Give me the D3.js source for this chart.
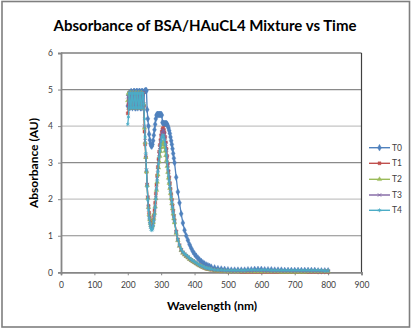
<!DOCTYPE html>
<html><head><meta charset="utf-8">
<script src="https://cdn.jsdelivr.net/npm/d3@7"></script>
<style>html,body{margin:0;padding:0;background:#fff;}svg{display:block;font-family:Lato,"Open Sans",sans-serif;}</style>
</head><body>
<svg id="c" width="412" height="329"></svg>
<script>
const wavelengths = [200,202,204,206,208,210,212,214,216,218,220,222,224,226,228,230,232,234,236,238,240,242,244,246,248,250,252,254,256,
258,260,262,264,266,268,270,272,274,276,278,280,282,284,286,288,290,292,294,296,298,300,302,304,306,308,310,312,314,316,318,320,322,324,326,328,330,332,334,336,338,340,
345,350,355,360,365,370,375,380,385,390,395,400,405,410,415,420,425,430,435,440,445,450,
460,470,480,490,500,510,520,530,540,550,560,570,580,590,600,610,620,630,640,650,660,670,680,690,700,710,720,730,740,750,760,770,780,790,800];

const T0 = [4.55,4.85,4.9,4.5,4.55,4.95,4.9,4.5,4.55,4.95,4.95,4.5,4.5,4.95,4.95,4.5,4.55,4.95,4.95,4.5,4.5,4.95,4.95,4.5,4.55,4.95,4.97,4.97,4.97,
4.45,4.2,4.0,3.78,3.62,3.52,3.46,3.45,3.5,3.6,3.75,3.9,4.05,4.2,4.3,4.32,4.32,4.32,4.32,4.32,4.32,4.32,4.3,4.1,4.07,4.07,4.07,4.07,4.07,4.07,4.05,4.0,3.95,3.88,3.8,3.7,3.6,3.5,3.38,3.25,3.12,3.0,
2.6,2.2,1.9,1.6,1.35,1.15,1.0,0.88,0.76,0.66,0.57,0.5,0.44,0.39,0.34,0.3,0.26,0.23,0.2,0.18,0.16,0.14,
0.12,0.1,0.09,0.08,0.07,0.06,0.06,0.06,0.06,0.06,0.07,0.07,0.08,0.08,0.08,0.07,0.07,0.07,0.06,0.06,0.06,0.05,0.05,0.05,0.05,0.05,0.05,0.05,0.05,0.05,0.05,0.04,0.04,0.04,0.04];

const T1 = [4.35,4.6,4.9,4.9,4.5,4.5,4.9,4.9,4.5,4.5,4.9,4.9,4.5,4.5,4.9,4.9,4.5,4.5,4.9,4.9,4.5,4.5,4.9,4.9,4.55,3.85,3.5,3.15,2.75,
2.4,2.05,1.82,1.63,1.49,1.39,1.33,1.3,1.33,1.42,1.55,1.7,1.9,2.15,2.4,2.65,2.88,3.1,3.3,3.48,3.62,3.75,3.85,3.92,3.95,3.9,3.82,3.7,3.55,3.38,3.18,2.97,2.77,2.6,2.44,2.29,2.14,1.99,1.84,1.69,1.55,1.43,
1.12,0.9,0.74,0.62,0.54,0.49,0.45,0.41,0.37,0.33,0.3,0.27,0.24,0.21,0.19,0.16,0.14,0.12,0.1,0.09,0.08,0.07,
0.05,0.04,0.03,0.03,0.02,0.02,0.02,0.02,0.01,0.01,0.01,0.01,0.01,0.01,0.01,0.01,0.01,0.01,0.01,0.01,0.01,0.01,0.01,0.01,0.01,0.01,0.01,0.01,0.01,0.01,0.01,0.01,0.01,0.01,0.01];

const T2 = [4.7,4.9,4.5,4.5,4.9,4.9,4.5,4.5,4.9,4.9,4.5,4.5,4.9,4.9,4.5,4.5,4.9,4.9,4.5,4.5,4.9,4.9,4.5,4.5,4.6,3.95,3.55,3.15,2.75,
2.38,2.03,1.78,1.58,1.44,1.34,1.28,1.25,1.28,1.36,1.48,1.62,1.8,2.02,2.25,2.47,2.67,2.86,3.03,3.18,3.31,3.42,3.5,3.55,3.55,3.5,3.42,3.32,3.2,3.06,2.9,2.74,2.58,2.44,2.3,2.16,2.02,1.88,1.74,1.6,1.47,1.36,
1.07,0.87,0.72,0.6,0.53,0.48,0.44,0.4,0.36,0.33,0.3,0.27,0.24,0.21,0.18,0.16,0.14,0.12,0.1,0.09,0.08,0.07,
0.05,0.04,0.03,0.03,0.02,0.02,0.02,0.02,0.02,0.02,0.02,0.02,0.02,0.02,0.02,0.02,0.02,0.02,0.02,0.02,0.01,0.01,0.01,0.01,0.01,0.01,0.01,0.01,0.02,0.02,0.02,0.02,0.02,0.02,0.02];

const T3 = [4.8,4.5,4.5,4.9,4.9,4.5,4.5,4.9,4.9,4.5,4.5,4.9,4.9,4.5,4.5,4.9,4.9,4.5,4.5,4.9,4.9,4.5,4.5,4.9,4.6,4.0,3.6,3.2,2.8,
2.4,2.05,1.78,1.56,1.4,1.29,1.23,1.2,1.23,1.32,1.45,1.6,1.8,2.04,2.3,2.56,2.8,3.03,3.24,3.42,3.58,3.72,3.82,3.88,3.9,3.86,3.78,3.66,3.51,3.34,3.14,2.93,2.74,2.57,2.41,2.26,2.11,1.96,1.81,1.67,1.53,1.41,
1.1,0.89,0.73,0.61,0.54,0.49,0.45,0.41,0.37,0.34,0.31,0.28,0.25,0.22,0.19,0.17,0.15,0.13,0.11,0.1,0.09,0.08,
0.06,0.05,0.04,0.04,0.03,0.03,0.03,0.03,0.03,0.03,0.03,0.03,0.04,0.04,0.04,0.03,0.03,0.03,0.03,0.03,0.03,0.03,0.03,0.03,0.03,0.03,0.03,0.03,0.03,0.03,0.03,0.03,0.03,0.03,0.03];

const T4 = [4.05,4.25,4.9,4.9,4.5,4.5,4.9,4.9,4.5,4.5,4.9,4.9,4.5,4.5,4.9,4.9,4.5,4.5,4.9,4.9,4.5,4.5,4.9,4.9,4.6,4.2,3.7,3.25,2.8,
2.35,1.98,1.7,1.49,1.34,1.23,1.17,1.15,1.18,1.27,1.4,1.56,1.77,2.01,2.27,2.52,2.75,2.96,3.15,3.32,3.47,3.59,3.68,3.74,3.75,3.7,3.62,3.5,3.36,3.2,3.02,2.83,2.65,2.49,2.34,2.2,2.06,1.92,1.78,1.64,1.51,1.4,
1.1,0.9,0.75,0.63,0.56,0.51,0.47,0.43,0.39,0.35,0.32,0.29,0.26,0.23,0.2,0.18,0.16,0.14,0.12,0.11,0.1,0.09,
0.07,0.06,0.06,0.05,0.05,0.05,0.05,0.05,0.05,0.05,0.06,0.06,0.06,0.06,0.06,0.06,0.06,0.05,0.05,0.05,0.05,0.05,0.05,0.05,0.05,0.05,0.05,0.05,0.05,0.05,0.05,0.05,0.05,0.04,0.04];

const seriesNames = ["T0","T1","T2","T3","T4"];
const seriesValues = [T0,T1,T2,T3,T4];
const xTicks = [0,100,200,300,400,500,600,700,800,900];
const yTicks = [0,1,2,3,4,5,6];
const titleText = "Absorbance of BSA/HAuCL4 Mixture vs Time";
const xTitle = "Wavelength (nm)";
const yTitle = "Absorbance (AU)";

const colors = ["#4F81BD","#C0504D","#9BBB59","#8064A2","#4BACC6"];
const symbols = [d3.symbolDiamond, d3.symbolSquare, d3.symbolTriangle, d3.symbolX, d3.symbolAsterisk];
const symSizes = [13, 9, 9, 9, 10];

const svg = d3.select("#c");
const L = 61, R = 361.5, T = 53, B = 272.3;
const x = d3.scaleLinear().domain([0,900]).range([L,R]);
const y = d3.scaleLinear().domain([0,6]).range([B,T]);

svg.append("rect").attr("x",2).attr("y",1.5).attr("width",407.5).attr("height",325.5)
  .attr("fill","#fff").attr("stroke","#7f7f7f").attr("stroke-width",1.6);

svg.append("text").attr("x",205).attr("y",31).attr("text-anchor","middle")
  .attr("font-weight","bold").attr("font-size",15).attr("fill","#000").text(titleText);

const g = svg.append("g");
yTicks.filter(d=>d>0 && d<6).forEach(d=>{
  g.append("line").attr("x1",L).attr("x2",R).attr("y1",y(d)).attr("y2",y(d))
   .attr("stroke", d%2===1 ? "#8a8a8a" : "#c4c4c4").attr("stroke-width",1.2);
});
g.append("line").attr("x1",L).attr("x2",R).attr("y1",T).attr("y2",T).attr("stroke","#404040").attr("stroke-width",1.2);
g.append("line").attr("x1",R).attr("x2",R).attr("y1",T).attr("y2",B).attr("stroke","#404040").attr("stroke-width",1.2);

const xAxis = d3.axisBottom(x).tickValues(xTicks).tickSize(3).tickFormat(d3.format("d"));
const yAxis = d3.axisLeft(y).tickValues(yTicks).tickSize(3).tickFormat(d3.format("d"));
const gx = svg.append("g").attr("transform",`translate(0,${B})`).call(xAxis);
const gy = svg.append("g").attr("transform",`translate(${L},0)`).call(yAxis);
[gx,gy].forEach(a=>{
  a.select(".domain").attr("stroke","#868686").attr("stroke-width",1.8);
  a.selectAll(".tick line").attr("stroke","#868686");
  a.selectAll(".tick text").attr("font-family","Lato, 'Open Sans', sans-serif").attr("font-size",8.5).attr("fill","#404040");
});
gx.selectAll(".tick text").attr("dy","0").attr("y",15.5);
gy.selectAll(".tick text").attr("x",-8).attr("dy","0.32em");

svg.append("text").attr("x",212).attr("y",310).attr("text-anchor","middle")
  .attr("font-weight","bold").attr("font-size",12).text(xTitle);
svg.append("text").attr("transform","translate(38,163) rotate(-90)").attr("text-anchor","middle")
  .attr("font-weight","bold").attr("font-size",12).text(yTitle);

const line = d3.line().x(d=>x(d[0])).y(d=>y(d[1]));
const plot = svg.append("g");
seriesValues.forEach((vals,i)=>{
  const pts = wavelengths.map((w,j)=>[w, vals[j]]);
  plot.append("path").datum(pts).attr("d",line).attr("fill","none")
    .attr("stroke",colors[i]).attr("stroke-width",1.3);
  const sym = d3.symbol().type(symbols[i]).size(symSizes[i]);
  const isStroke = (i===3 || i===4);
  plot.append("g").selectAll("path").data(pts).join("path")
    .attr("transform",d=>`translate(${x(d[0])},${y(d[1])})`)
    .attr("d",sym())
    .attr("fill", isStroke ? "none" : colors[i])
    .attr("stroke", colors[i]).attr("stroke-width", isStroke ? 0.8 : 0.4);
});

const legY = [147.7,163.3,179.3,195,210.3];
const lg = svg.append("g");
seriesNames.forEach((n,i)=>{
  const yy = legY[i];
  lg.append("line").attr("x1",369).attr("x2",390).attr("y1",yy).attr("y2",yy)
    .attr("stroke",colors[i]).attr("stroke-width",1.4);
  const isStroke = (i===3 || i===4);
  lg.append("path").attr("transform",`translate(379.5,${yy})`)
    .attr("d",d3.symbol().type(symbols[i]).size(symSizes[i])())
    .attr("fill", isStroke ? "none" : colors[i]).attr("stroke",colors[i]).attr("stroke-width", isStroke?0.8:0.4);
  lg.append("text").attr("x",392).attr("y",yy).attr("dy","0.35em")
    .attr("font-size",8.5).attr("fill","#404040").text(n);
});
</script>
</body></html>
